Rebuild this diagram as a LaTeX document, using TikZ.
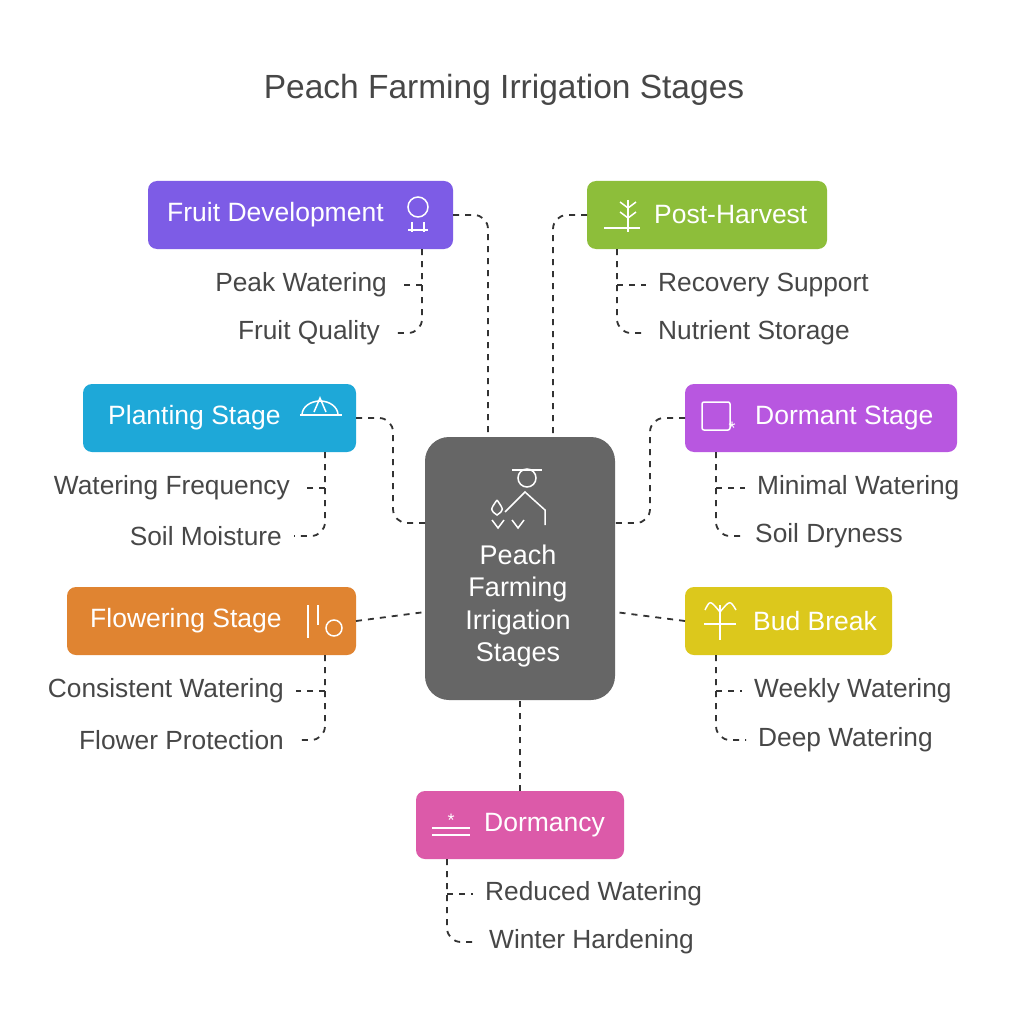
\documentclass[tikz,border=0pt]{standalone}
\usepackage{fontspec}
\setmainfont{Liberation Sans}
\begin{document}
\begin{tikzpicture}[x=1pt,y=-1pt,
 box/.style={rounded corners=9pt,text=white,font=\fontsize{26.5}{30}\selectfont,inner sep=0pt},
 lab/.style={text=black!72,font=\fontsize{26.3}{30}\selectfont,inner sep=0pt},
 con/.style={draw=black!80,dashed,line width=1.8pt,dash pattern=on 6pt off 6pt,rounded corners=14pt},
 ic/.style={draw=white,line width=1.5pt}]
\useasboundingbox (0,0) rectangle (1008,1024);
\fill[white] (0,0) rectangle (1008,1024);
\node[text=black!72,font=\fontsize{33.5}{38}\selectfont] (title) at (504,90) {Peach Farming Irrigation Stages};
% center
\fill[black!60,rounded corners=24pt] (425,437) rectangle (615,700);
\node[text=white,font=\fontsize{27}{32.5}\selectfont,align=center] (c) at (518,606) {Peach\\Farming\\Irrigation\\Stages};
\coordinate (ct1) at (488,437); \coordinate (ct2) at (553,437);
\coordinate (cl1) at (425,523); \coordinate (cr1) at (615,523);
\coordinate (cl2) at (425,612); \coordinate (cr2) at (615,612);
\coordinate (cb) at (520,700);
\draw[ic] (527,478) circle (9);\draw[ic] (512,470)--(542,470);
\draw[ic] (505,512)--(525,492)--(545,510)--(545,525);\draw[ic] (497,500)..controls(490,510)..(497,515)..controls(504,510)..(497,500);
\draw[ic] (492,520)--(498,528)--(504,520);\draw[ic] (512,520)--(518,528)--(524,520);
% boxes
\fill[rounded corners=9pt,fill={rgb,255:red,125;green,92;blue,230}] (148,181) rectangle (453,249);
\node[box,anchor=west] (fd) at (167,215) {Fruit Development};
\draw[ic] (418,207) circle (10);\draw[ic] (408,230)--(428,230);\draw[ic](412,222)--(412,232);\draw[ic](424,222)--(424,232);
\fill[rounded corners=9pt,fill={rgb,255:red,141;green,190;blue,58}] (587,181) rectangle (827,249);
\node[box,anchor=west] (ph) at (654,215) {Post-Harvest};
\draw[ic] (628,200)--(628,232);\draw[ic](628,208)--(620,202);\draw[ic](628,208)--(636,202);\draw[ic](628,218)--(620,212);\draw[ic](628,218)--(636,212);\draw[ic](604,228)--(640,228);
\fill[rounded corners=9pt,fill={rgb,255:red,30;green,168;blue,216}] (83,384) rectangle (356,452);
\node[box,anchor=west] (ps) at (108,418) {Planting Stage};
\draw[ic] (302,415) arc (180:360:18 and 14);\draw[ic](300,415)--(342,415);\draw[ic](314,412)--(320,398)--(326,412);
\fill[rounded corners=9pt,fill={rgb,255:red,184;green,87;blue,224}] (685,384) rectangle (957,452);
\node[box,anchor=west] (ds) at (755,418) {Dormant Stage};
\draw[ic,rounded corners=2pt] (702,402) rectangle (730,430);\node[text=white,font=\fontsize{18}{18}\selectfont] (sf) at (732,428) {*};
\fill[rounded corners=9pt,fill={rgb,255:red,224;green,132;blue,49}] (67,587) rectangle (356,655);
\node[box,anchor=west] (fs) at (90,621) {Flowering Stage};
\draw[ic] (308,605)--(308,638);\draw[ic](318,605)--(318,625);\draw[ic](334,628) circle (8);
\fill[rounded corners=9pt,fill={rgb,255:red,220;green,200;blue,28}] (685,587) rectangle (892,655);
\node[box,anchor=west] (bb) at (753,621) {Bud Break};
\draw[ic] (720,605)--(720,640);\draw[ic](720,612)..controls(710,600)..(705,610);\draw[ic](720,612)..controls(730,600)..(736,610);\draw[ic](704,624)--(736,624);
\fill[rounded corners=9pt,fill={rgb,255:red,220;green,90;blue,169}] (416,791) rectangle (624,859);
\node[box,anchor=west] (dm) at (484,825) {Dormancy};
\draw[ic] (432,828)--(470,828);\draw[ic](432,835)--(470,835);\node[text=white,font=\fontsize{18}{18}\selectfont] (sf2) at (451,820) {*};
% hub connectors
\draw[con] (453,215) -- (488,215) -- (ct1);
\draw[con] (587,215) -- (553,215) -- (ct2);
\draw[con] (356,418) -- (393,418) -- (393,523) -- (cl1);
\draw[con] (685,418) -- (650,418) -- (650,523) -- (cr1);
\draw[con] (356,621) -- (cl2);
\draw[con] (685,621) -- (cr2);
\draw[con] (520,791) -- (cb);
% labels
\node[lab,anchor=east] (l1) at (387,285) {Peak Watering};
\node[lab,anchor=east] (l2) at (380,333) {Fruit Quality};
\draw[con] (422,249) -- (422,333) -- ([xshift=12pt]l2.east);\draw[con] (422,285)--([xshift=12pt]l1.east);
\node[lab,anchor=west] (l3) at (658,285) {Recovery Support};
\node[lab,anchor=west] (l4) at (658,333) {Nutrient Storage};
\draw[con] (617,249) -- (617,333) -- ([xshift=-12pt]l4.west);\draw[con] (617,285)--([xshift=-12pt]l3.west);
\node[lab,anchor=east] (l5) at (290,488) {Watering Frequency};
\node[lab,anchor=east] (l6) at (282,536) {Soil Moisture};
\draw[con] (325,452) -- (325,536) -- ([xshift=12pt]l6.east);\draw[con] (325,488)--([xshift=12pt]l5.east);
\node[lab,anchor=west] (l7) at (757,488) {Minimal Watering};
\node[lab,anchor=west] (l8) at (755,536) {Soil Dryness};
\draw[con] (716,452) -- (716,536) -- ([xshift=-12pt]l8.west);\draw[con] (716,488)--([xshift=-12pt]l7.west);
\node[lab,anchor=east] (l9) at (284,691) {Consistent Watering};
\node[lab,anchor=east] (l10) at (284,740) {Flower Protection};
\draw[con] (325,655) -- (325,740) -- ([xshift=12pt]l10.east);\draw[con] (325,691)--([xshift=12pt]l9.east);
\node[lab,anchor=west] (l11) at (754,691) {Weekly Watering};
\node[lab,anchor=west] (l12) at (758,740) {Deep Watering};
\draw[con] (716,655) -- (716,740) -- ([xshift=-12pt]l12.west);\draw[con] (716,691)--([xshift=-12pt]l11.west);
\node[lab,anchor=west] (l13) at (485,894) {Reduced Watering};
\node[lab,anchor=west] (l14) at (489,942) {Winter Hardening};
\draw[con] (447,859) -- (447,942) -- ([xshift=-12pt]l14.west);\draw[con] (447,894)--([xshift=-12pt]l13.west);
\end{tikzpicture}
\end{document}
